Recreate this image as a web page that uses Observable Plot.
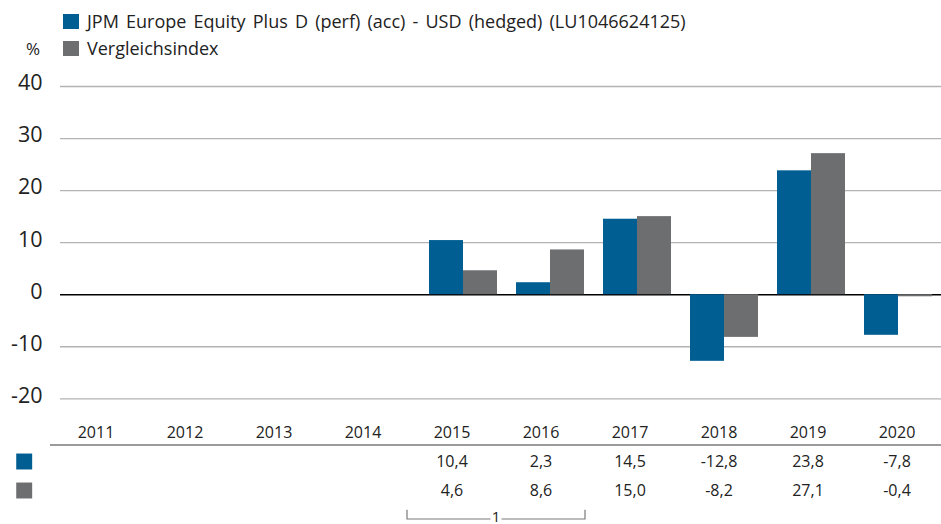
<!DOCTYPE html>
<html>
<head>
<meta charset="utf-8">
<script src="https://cdn.jsdelivr.net/npm/d3@7"></script>
<script src="https://cdn.jsdelivr.net/npm/@observablehq/plot@0.6"></script>
<style>
  body { margin: 0; width: 941px; height: 524px; position: relative; overflow: hidden; background: #fff; font-family: "Open Sans", sans-serif; color: #222; }
  .lg { position: absolute; left: 63px; height: 16px; display: flex; align-items: center; font-size: 18px; word-spacing: 2.5px; white-space: nowrap; }
  .sw { display: inline-block; width: 16px; height: 15px; margin-right: 8px; flex: none; }
  #pct { position: absolute; left: 26px; top: 37px; font-size: 17px; }
  #main { position: absolute; left: 0; top: 60px; line-height: 0; }
  #table { position: absolute; left: 0; top: 410px; line-height: 0; }
</style>
</head>
<body>
<div id="legend"></div>
<div id="pct"></div>
<div id="main"></div>
<div id="table"></div>
<script>
// ---- data ----
const years = ["2011", "2012", "2013", "2014", "2015", "2016", "2017", "2018", "2019", "2020"];
const seriesNames = ["JPM Europe Equity Plus D (perf) (acc) - USD (hedged) (LU1046624125)", "Vergleichsindex"];
const fundValues = [null, null, null, null, 10.4, 2.3, 14.5, -12.8, 23.8, -7.8];
const benchValues = [null, null, null, null, 4.6, 8.6, 15.0, -8.2, 27.1, -0.4];
const yTicks = [40, 30, 20, 10, 0, -10, -20];
const unitLabel = "%";
const footnoteYears = ["2015", "2016"];
const footnoteLabel = "1";

// ---- styles ----
const BLUE = "#005e93";
const GREY = "#6d6e70";
const TEXT = "#222";
const colors = [BLUE, GREY];
const font = "'Open Sans', sans-serif";

// legend
const lg = document.getElementById("legend");
seriesNames.forEach((name, i) => {
  const row = document.createElement("div");
  row.className = "lg";
  row.style.top = (13 + i * 27) + "px";
  const sw = document.createElement("span");
  sw.className = "sw";
  sw.style.background = colors[i];
  row.appendChild(sw);
  row.appendChild(document.createTextNode(name));
  lg.appendChild(row);
});
document.getElementById("pct").textContent = unitLabel;

const fund = years.map((y, i) => ({year: y, value: fundValues[i]})).filter(d => d.value != null);
const bench = years.map((y, i) => ({year: y, value: benchValues[i]})).filter(d => d.value != null);
const fmt = v => v.toFixed(1).replace(".", ",");

// ---- main chart ----
const main = Plot.plot({
  width: 941,
  height: 350,
  marginLeft: 60,
  marginRight: 0,
  marginTop: 26,
  marginBottom: 11.7,
  style: {fontFamily: font, color: TEXT, background: "transparent"},
  x: {type: "band", domain: years, range: [70.6, 941], paddingInner: 0.224, paddingOuter: 0.08, axis: null},
  y: {domain: [-20, 40], axis: null},
  marks: [
    Plot.ruleY(yTicks.filter(d => d !== 0), {y: d => d, stroke: "#b3b3b3", strokeWidth: 1.3}),
    Plot.ruleY([0], {stroke: "#000", strokeWidth: 1.5}),
    Plot.barY(fund, {x: "year", y: "value", fill: BLUE, insetRight: 34}),
    Plot.barY(bench, {x: "year", y: "value", fill: GREY, insetLeft: 34}),
    Plot.text(yTicks, {y: d => d, text: d => String(d), frameAnchor: "left", textAnchor: "end", dx: -18, dy: -3, fontSize: 21.5, fill: TEXT})
  ]
});
document.getElementById("main").appendChild(main);

// ---- table ----
const rows = ["years", "fund", "bench", "note"];
const table = Plot.plot({
  width: 941,
  height: 114,
  marginLeft: 50,
  marginRight: 0,
  marginTop: 0,
  marginBottom: 0,
  style: {fontFamily: font, color: TEXT, background: "transparent"},
  x: {type: "band", domain: years, padding: 0, axis: null},
  y: {type: "point", domain: rows, range: [21.5, 110], padding: 0, axis: null},
  marks: [
    Plot.text(years, {x: d => d, y: () => "years", text: d => d, fontSize: 16, fill: TEXT}),
    Plot.ruleY(["years"], {y: d => d, dy: 12.5, stroke: "#7a7a7a", strokeWidth: 1.3}),
    Plot.text(fund, {x: "year", y: () => "fund", text: d => fmt(d.value), fontSize: 16, fill: TEXT}),
    Plot.text(bench, {x: "year", y: () => "bench", text: d => fmt(d.value), fontSize: 16, fill: TEXT}),
    Plot.dot(["fund"], {y: d => d, frameAnchor: "left", dx: -26.3, symbol: "square", r: 9, fill: BLUE, stroke: "none"}),
    Plot.dot(["bench"], {y: d => d, frameAnchor: "left", dx: -26.3, symbol: "square", r: 9, fill: GREY, stroke: "none"}),
    (index, scales) => {
      const x = scales.x, y = scales.y;
      const x1 = x(footnoteYears[0]);
      const x2 = x(footnoteYears[1]) + x.bandwidth();
      const yy = y("note");
      const xm = (x1 + x2) / 2;
      const g = d3.create("svg:g").attr("stroke", "#7a7a7a").attr("stroke-width", 1.2).attr("fill", "none");
      g.append("path").attr("d", `M${x1},${yy - 9.3}V${yy}H${xm - 5.5}M${xm + 5.5},${yy}H${x2}V${yy - 9.3}`);
      g.append("text").attr("x", xm).attr("y", yy + 2.5).attr("text-anchor", "middle")
        .attr("stroke", "none").attr("fill", TEXT).attr("font-size", 15).text(footnoteLabel);
      return g.node();
    }
  ]
});
document.getElementById("table").appendChild(table);
</script>
</body>
</html>
